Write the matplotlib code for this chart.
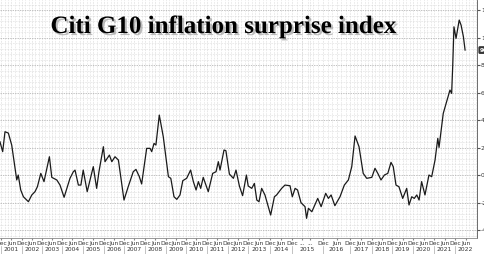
import numpy as np
import matplotlib
matplotlib.use('Agg')
from matplotlib import pyplot as plt
from matplotlib import patheffects as pe

# Citi G10 inflation surprise index (decimal year, index)
dates = [2000.95, 2001.08, 2001.19, 2001.35, 2001.51, 2001.75, 2001.82, 2001.94,
         2002.07, 2002.32, 2002.49, 2002.65, 2002.77, 2002.94,
         2003.10, 2003.37, 2003.49, 2003.74, 2003.90,
         2004.10, 2004.38, 2004.54, 2004.62, 2004.78, 2004.90,
         2005.01, 2005.20, 2005.49, 2005.65, 2005.76, 2005.97,
         2006.05, 2006.27, 2006.39, 2006.55, 2006.72, 2007.00,
         2007.20, 2007.44, 2007.57, 2007.73, 2007.84,
         2008.08, 2008.24, 2008.32, 2008.43, 2008.52, 2008.68, 2008.87,
         2009.12, 2009.24, 2009.40, 2009.54, 2009.70, 2009.84,
         2010.03, 2010.22, 2010.35, 2010.48, 2010.59, 2010.70, 2010.82,
         2011.06, 2011.27, 2011.43, 2011.54, 2011.62, 2011.81, 2011.90,
         2012.07, 2012.27, 2012.40, 2012.57, 2012.73, 2012.92,
         2013.01, 2013.17, 2013.29, 2013.40, 2013.50, 2013.62, 2013.77, 2013.88,
         2014.03, 2014.20, 2014.30, 2014.53, 2014.68, 2014.91,
         2015.01, 2015.10, 2015.18, 2015.29, 2015.42, 2015.47, 2015.53, 2015.64, 2015.83, 2015.94,
         2016.10, 2016.20, 2016.30, 2016.44, 2016.63, 2016.79, 2016.94,
         2017.08, 2017.23, 2017.41, 2017.60, 2017.76, 2017.99,
         2018.15, 2018.29, 2018.45, 2018.62, 2018.79, 2018.95,
         2019.06, 2019.19, 2019.33, 2019.51, 2019.70, 2019.81, 2019.94,
         2020.06, 2020.18, 2020.29, 2020.41, 2020.57, 2020.76, 2020.89,
         2021.05, 2021.18, 2021.24, 2021.44, 2021.60, 2021.76, 2021.84, 2021.89, 2021.95,
         2022.05, 2022.20, 2022.29, 2022.40, 2022.48]
values = [24.2, 17.0, 31.5, 30.5, 21.8, -3.6, 0.0, -10.9,
          -15.8, -19.4, -14.5, -12.1, -8.5, 1.2,
          -4.8, 13.3, -1.7, -3.6, -7.3,
          -16.2, -2.4, 2.4, 3.6, -7.3, -7.3,
          3.6, -12.1, 6.1, -9.7, 2.4, 20.6,
          9.7, 14.5, 9.7, 13.3, 10.9, -18.2,
          -8.5, 2.4, 4.1, -1.2, -6.5,
          19.4, 19.4, 17.0, 23.0, 21.8, 43.6, 27.9,
          -1.2, -2.4, -15.8, -17.7, -14.5, -4.1,
          -2.4, 3.6, -4.8, -10.9, -4.8, -9.7, -1.7,
          -12.1, 1.2, 2.4, 9.7, 3.6, 18.2, 17.7,
          0.7, -2.4, 3.6, -8.0, -15.0, 0.0,
          -8.0, -9.7, -6.1, -18.2, -19.4, -9.7, -14.5, -20.6,
          -29.1, -15.8, -14.5, -9.7, -7.3, -7.8,
          -15.8, -9.7, -10.9, -20.1, -23.0, -31.5, -24.2, -26.7, -17.0, -23.0,
          -13.3, -17.0, -14.5, -22.3, -15.8, -7.3, -3.6,
          6.1, 28.4, 20.6, 1.2, -2.4, -1.7,
          4.9, 1.2, -3.6, 0.0, 1.2, 9.2,
          6.1, -7.3, -8.5, -17.0, -9.7, -21.8, -15.8,
          -17.0, -14.5, -18.2, -4.8, -14.5, 0.0, -1.2,
          10.9, 26.7, 20.1, 44.8, 53.3, 61.8, 59.4, 78.8, 107.8,
          99.4, 112.7, 109.0, 100.6, 90.9]
years = list(range(2001, 2023))
last_label = '90.9'

# the source axis is not evenly spaced in time, so map year -> axis position piecewise
anchor_years = list(range(2000, 2025))
anchor_pos = [-20, 1, 22, 42, 62, 83, 104, 124, 145, 166, 186, 207, 228, 248,
              270, 292, 323, 350, 372, 392, 413, 434, 455, 476, 497]


def fwd(x):
    return np.interp(x, anchor_years, anchor_pos)


def inv(p):
    return np.interp(p, anchor_pos, anchor_years)


fig = plt.figure(figsize=(4.85, 2.54), dpi=100)
ax = fig.add_axes([0, 16 / 254, 477 / 485, 238 / 254])
ax.set_xscale('function', functions=(fwd, inv))

ax.plot(dates, values, color='#1a1a1a', lw=0.9, zorder=3)

ax.set_xlim(inv(0), inv(477))
ax.set_ylim(-45.8, 127.3)

# month ticks: Jun / Dec, with a couple of odd '...' labels in 2015 like the source
tick_x, tick_lab = [], []
for y in range(2000, 2022):
    tick_x.append(y + 1.0)
    tick_lab.append('Dec')
    if y + 1 == 2015:
        tick_x += [2015.33, 2015.58]
        tick_lab += ['...', '...']
    else:
        tick_x.append(y + 1.5)
        tick_lab.append('Jun')
ax.set_xticks(tick_x)
ax.set_xticklabels(tick_lab)
ax.set_xticks(np.arange(2001, 2023.01, 1 / 6), minor=True)

ax.yaxis.tick_right()
ax.set_yticks(np.arange(-40, 121, 20))
ax.set_yticklabels([str(int(v)) for v in np.arange(-40, 121, 20)])
ax.set_yticks(np.arange(-44, 127, 4), minor=True)

ax.tick_params(axis='x', which='major', labelsize=4.3, length=1.5, pad=0.8,
               color='#888888', labelcolor='#333333')
ax.tick_params(axis='y', which='major', labelsize=4.3, length=2, pad=0.8,
               color='#555555', labelcolor='#333333')
ax.tick_params(which='minor', length=0)

ax.grid(which='major', axis='y', color='#aaaaaa', lw=0.5, ls=(0, (2, 1.5)))
ax.grid(which='major', axis='x', color='#c4c4c4', lw=0.45, ls=(0, (1, 1.5)))
ax.grid(which='minor', color='#cecece', lw=0.45, ls=(0, (1, 1.5)))
ax.set_axisbelow(True)

for s in ['top', 'left']:
    ax.spines[s].set_visible(False)
ax.spines['right'].set_color('#555555')
ax.spines['bottom'].set_color('#888888')
ax.spines['right'].set_linewidth(0.6)
ax.spines['bottom'].set_linewidth(0.6)

# year row with separators
trans = ax.get_xaxis_transform()
for y in years:
    ax.text(y + 0.5, -0.048, str(y), transform=trans, ha='center', va='center',
            fontsize=4.3, color='#333333', clip_on=False)
for y in range(2001, 2023):
    ax.plot([y, y], [-0.034, -0.07], transform=trans, color='#aaaaaa',
            lw=0.5, clip_on=False)

# last value tag on the right axis
ax.annotate(last_label, xy=(1.0, values[-1]), xycoords=('axes fraction', 'data'),
            xytext=(2, 0), textcoords='offset points', ha='left', va='center',
            fontsize=4, color='white', fontweight='bold',
            bbox=dict(boxstyle='round,pad=0.25', fc='#333333', ec='none'),
            annotation_clip=False)

fig.text(223 / 485, 1 - 33 / 254, 'Citi G10 inflation surprise index',
         ha='center', va='baseline', fontsize=18, fontweight='bold',
         family='Liberation Serif', color='black',
         path_effects=[pe.withSimplePatchShadow(offset=(1.5, -1.5),
                                                shadow_rgbFace='#888888', alpha=0.55)])

fig.savefig('out.png', dpi=100, facecolor='white')
